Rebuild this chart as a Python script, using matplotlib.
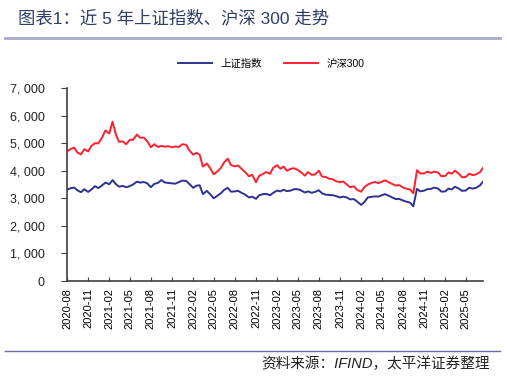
import matplotlib
matplotlib.use("Agg")
import matplotlib.pyplot as plt
import matplotlib.dates as mdates
from matplotlib.lines import Line2D
from matplotlib.ticker import FuncFormatter
import pandas as pd

plt.rcParams['font.family'] = ['Liberation Sans', 'Noto Sans CJK SC', 'DejaVu Sans']

# semi-monthly observations, 2020-08 .. 2025-07
dates = pd.date_range("2020-08-01", "2025-07-31", freq="SMS")

sse = [
    3310, 3360, 3390, 3290, 3220, 3330, 3230, 3320, 3440, 3370,          # 2020
    3470, 3570, 3510, 3660, 3520, 3420, 3450, 3400, 3440, 3500, 3600, 3570,
    3590, 3550, 3400, 3520, 3560, 3660, 3570, 3560, 3540, 3530, 3590, 3640,  # 2021
    3630, 3520, 3380, 3460, 3470, 3150, 3270, 3150, 3000, 3080, 3180, 3300,
    3380, 3240, 3250, 3270, 3190, 3130, 3030, 3060, 2980, 3110, 3150, 3160,  # 2022
    3110, 3200, 3280, 3250, 3310, 3260, 3280, 3330, 3330, 3290, 3210, 3250,
    3200, 3230, 3290, 3180, 3130, 3120, 3110, 3080, 3030, 3060, 3030, 2960,  # 2023
    2970, 2880, 2760, 2860, 3030, 3050, 3070, 3060, 3110, 3150, 3090, 3030,
    2970, 2980, 2920, 2880, 2840, 2710, 3340, 3250, 3280, 3330, 3340, 3390,  # 2024
    3350, 3240, 3250, 3350, 3320, 3420, 3350, 3270, 3280, 3380, 3350, 3380,
    3460, 3600,                                                            # 2025
]

hs300 = [
    4700, 4780, 4840, 4660, 4590, 4780, 4700, 4900, 5000, 4990,          # 2020
    5210, 5460, 5350, 5780, 5330, 5050, 5060, 4960, 5120, 5120, 5310, 5200,
    5200, 5080, 4850, 4960, 4860, 4900, 4870, 4890, 4850, 4880, 4860, 4960,  # 2021
    4940, 4740, 4580, 4650, 4580, 4150, 4260, 4100, 3870, 3960, 4100, 4300,
    4440, 4200, 4160, 4190, 4050, 3950, 3800, 3850, 3580, 3820, 3880, 3950,  # 2022
    3890, 4110, 4200, 4070, 4150, 4000, 4070, 4090, 4030, 3950, 3820, 3950,
    3850, 3860, 4000, 3790, 3770, 3710, 3690, 3620, 3580, 3610, 3500, 3400,  # 2023
    3430, 3300, 3240, 3400, 3500, 3550, 3590, 3550, 3600, 3650, 3580, 3520,
    3460, 3480, 3390, 3350, 3320, 3180, 4020, 3900, 3900, 3970, 3920, 3970,  # 2024
    3930, 3800, 3810, 3940, 3890, 4000, 3890, 3760, 3770, 3890, 3840, 3870,
    3940, 4100,                                                            # 2025
]

labels = ["上证指数", "沪深300"]
tick_dates = pd.date_range("2020-08-01", "2025-05-01", freq="3MS")

fig = plt.figure(figsize=(5.07, 3.78), dpi=100)
ax = fig.add_axes([67/507, (378-281)/378, (483-67)/507, (281-88)/378])

ax.plot(dates, sse, color="#2e3192", lw=1.4, label=labels[0])
ax.plot(dates, hs300, color="#ff1f2e", lw=1.4, label=labels[1])

ax.set_xlim(dates[0], dates[-1])
ax.set_ylim(0, 7000)
ax.set_yticks(range(0, 7001, 1000))
ax.yaxis.set_major_formatter(FuncFormatter(lambda v, p: f"{int(v):,}".replace(",", ", ")))
ax.set_xticks(tick_dates)
ax.xaxis.set_major_formatter(mdates.DateFormatter("%Y-%m"))
ax.tick_params(axis="x", direction="in", length=3, labelsize=8, rotation=90, pad=5, color="#404040")
ax.tick_params(axis="y", direction="out", length=4, labelsize=9, pad=12, color="#404040",
               labelcolor="#222222")
for s in ["top", "right"]:
    ax.spines[s].set_visible(False)
for s in ["left", "bottom"]:
    ax.spines[s].set_color("#404040")
    ax.spines[s].set_linewidth(1.2)

fig.legend(loc="center", bbox_to_anchor=(0.535, 1 - 64/378), ncol=2, frameon=False,
           fontsize=7.5, handlelength=3.2, columnspacing=2.2)

fig.text(18/507, 1 - 18/378, "图表1：近 5 年上证指数、沪深 300 走势", fontsize=12.5,
         color="#2d3e66", va="center", ha="left")
fig.add_artist(Line2D([5/507, 500/507], [1 - 38/378] * 2, color="#a9a9c9", lw=2))
fig.add_artist(Line2D([5/507, 500/507], [1 - 351/378] * 2, color="#6a6aaa", lw=1))
fig.text(490/507, 1 - 364/378, "资料来源：IFIND，太平洋证券整理", fontsize=10.5,
         color="#222222", va="center", ha="right", style="italic")

fig.savefig("out.png", dpi=100)
